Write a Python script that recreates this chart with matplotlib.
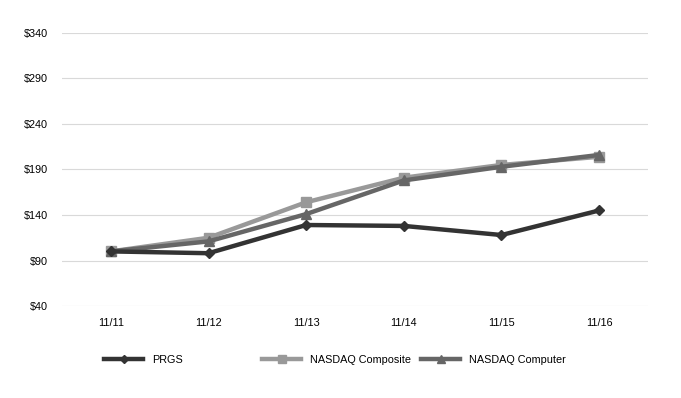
import matplotlib
matplotlib.use("Agg")
import matplotlib.pyplot as plt
from matplotlib.ticker import FuncFormatter

plt.rcParams['font.family'] = ['Liberation Sans', 'DejaVu Sans']

categories = ["11/11", "11/12", "11/13", "11/14", "11/15", "11/16"]
prgs = [100, 98, 129, 128, 118, 145]
nasdaq_composite = [100, 115, 154, 181, 195, 204]
nasdaq_computer = [100, 111, 141, 178, 193, 206]
yticks = [40, 90, 140, 190, 240, 290, 340]

fig = plt.figure(figsize=(6.81, 3.98), dpi=100)
ax = fig.add_axes([62/681, (398-306)/398, (648-62)/681, (306-33)/398])

x = list(range(len(categories)))
l1, = ax.plot(x, prgs, color="#333333", lw=3.2, marker="D", ms=5, label="PRGS", zorder=5)
l2, = ax.plot(x, nasdaq_composite, color="#999999", lw=3.2, marker="s", ms=6.5, label="NASDAQ Composite", zorder=3)
l3, = ax.plot(x, nasdaq_computer, color="#666666", lw=3.2, marker="^", ms=6.5, label="NASDAQ Computer", zorder=4)

ax.set_xlim(-0.5, len(categories) - 0.5)
ax.set_ylim(40, 340)
ax.set_yticks(yticks)
ax.yaxis.set_major_formatter(FuncFormatter(lambda v, p: f"${int(v)}"))
ax.set_xticks(x)
ax.set_xticklabels(categories)
ax.grid(axis="y", color="#d9d9d9", lw=0.8)
ax.set_axisbelow(True)
for s in ax.spines.values():
    s.set_visible(False)
ax.tick_params(axis="both", length=0, labelsize=7.8, colors="#000000")
ax.tick_params(axis="y", pad=10)
ax.tick_params(axis="x", pad=9)

for handle, xpos in [(l1, 104/681), (l2, 262/681), (l3, 421/681)]:
    fig.legend(handles=[handle], loc="center left", bbox_to_anchor=(xpos, (398-360)/398),
               frameon=False, fontsize=7.8, handlelength=3.6, handletextpad=0.8,
               borderaxespad=0, borderpad=0, markerscale=0.9)

fig.savefig("out.png", dpi=100)
